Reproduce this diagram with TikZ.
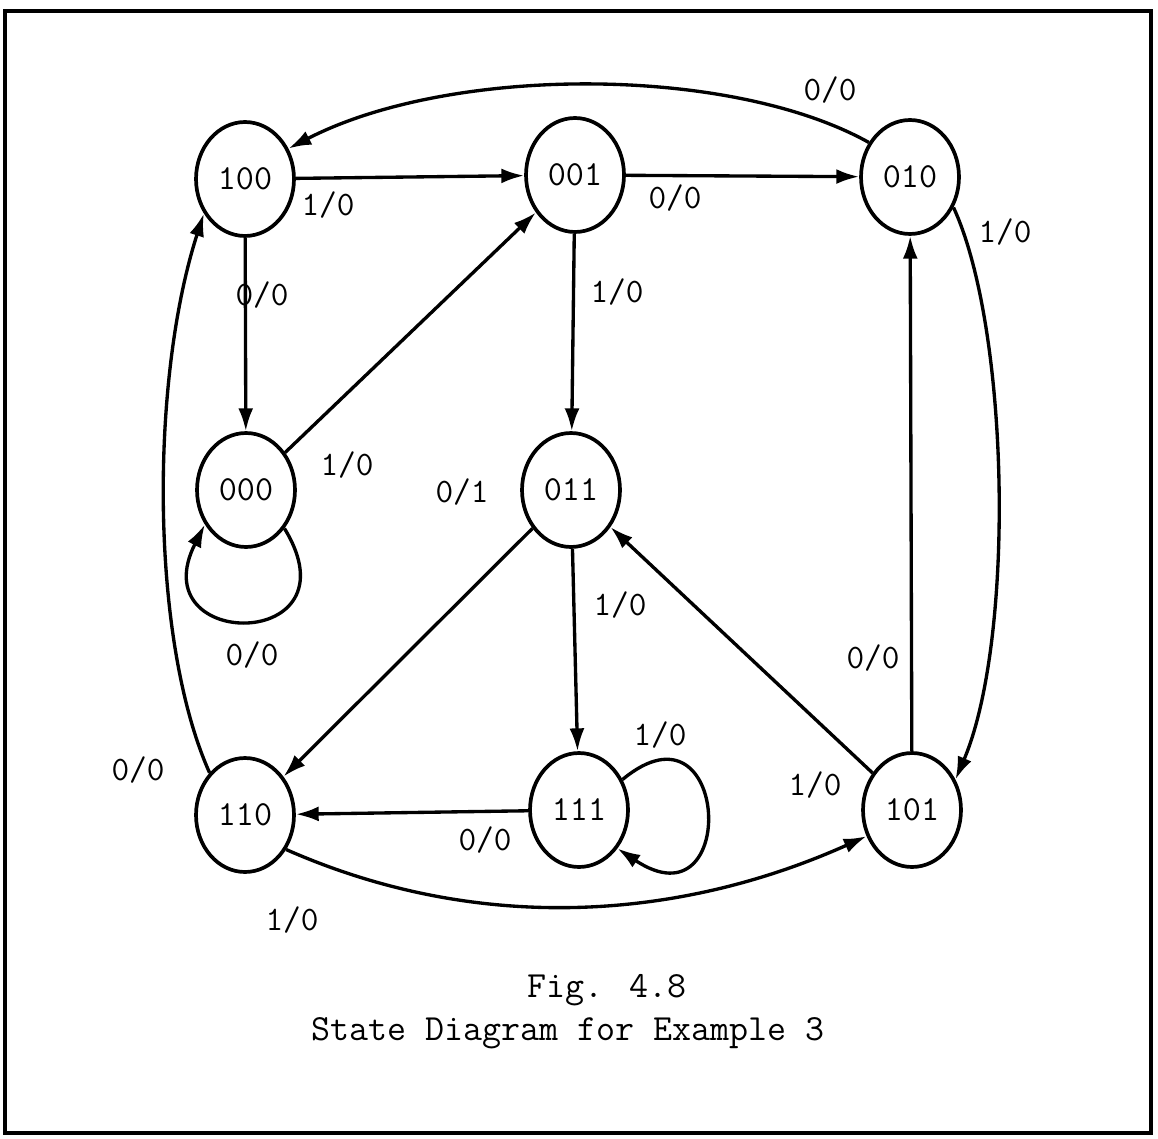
\documentclass[tikz,border=0pt]{standalone}
\usetikzlibrary{arrows.meta,shapes.geometric}
\begin{document}
\begin{tikzpicture}[x=0.02cm,y=-0.02cm,
  state/.style={draw,ellipse,line width=2.1pt,minimum width=1.96cm,minimum height=2.28cm,inner sep=0pt,
    font=\fontsize{20}{22}\selectfont\ttfamily},
  lbl/.style={inner sep=0pt,font=\fontsize{19.5}{22}\selectfont\ttfamily},
  captext/.style={inner sep=0pt,font=\fontsize{21}{24}\selectfont\ttfamily},
  edge/.style={line width=1.9pt,-{Latex[length=13pt,width=8.5pt]}}]
\useasboundingbox (0,0) rectangle (1158,1138);
\draw[line width=2pt] (5,11) rectangle (1151,1133);

% states
\node[state] (100) at (245,179) {100};
\node[state] (001) at (575,175) {001};
\node[state] (010) at (910,177) {010};
\node[state] (000) at (246,490) {000};
\node[state] (011) at (571,490) {011};
\node[state] (110) at (245,815) {110};
\node[state] (111) at (579,810) {111};
\node[state] (101) at (912,810) {101};

% straight transitions
\draw[edge] (100) -- (001);
\draw[edge] (001) -- (010);
\draw[edge] (100) -- (000);
\draw[edge] (000) -- (001);
\draw[edge] (001) -- (011);
\draw[edge] (011) -- (110);
\draw[edge] (011) -- (111);
\draw[edge] (111) -- (110);
\draw[edge] (101) -- (011);
\draw[edge] (101) -- (010);

% curved transitions
\draw[edge] (010.140) .. controls (730,65) and (450,65) .. (100.35);
\draw[edge] (010.-35) .. controls (1010,330) and (1015,640) .. (101.35);
\draw[edge] (110.130) .. controls (150,640) and (150,380) .. (100.-140);
\draw[edge] (110.-40) .. controls (480,935) and (680,920) .. (101.-150);

% self loops
\draw[edge] (000.-45) .. controls (360,652) and (140,652) .. (000.-140);
\draw[edge] (111.35) .. controls (730,690) and (740,930) .. (111.-45);

% edge labels
\node[lbl] (l1) at (328,205) {1/0};
\node[lbl] (l2) at (675,198) {0/0};
\node[lbl] (l3) at (830,90) {0/0};
\node[lbl] (l4) at (1005,232) {1/0};
\node[lbl] (l5) at (262,295) {0/0};
\node[lbl] (l6) at (347,465) {1/0};
\node[lbl] (l7) at (252,655) {0/0};
\node[lbl] (l8) at (617,292) {1/0};
\node[lbl] (l9) at (462,492) {0/1};
\node[lbl] (l10) at (620,605) {1/0};
\node[lbl] (l11) at (660,735) {1/0};
\node[lbl] (l12) at (485,840) {0/0};
\node[lbl] (l13) at (138,770) {0/0};
\node[lbl] (l14) at (292,920) {1/0};
\node[lbl] (l15) at (815,785) {1/0};
\node[lbl] (l16) at (873,658) {0/0};

% caption
\node[captext] (c1) at (607,990) {Fig. 4.8};
\node[captext] (c2) at (568,1033) {State Diagram for Example 3};
\end{tikzpicture}
\end{document}
